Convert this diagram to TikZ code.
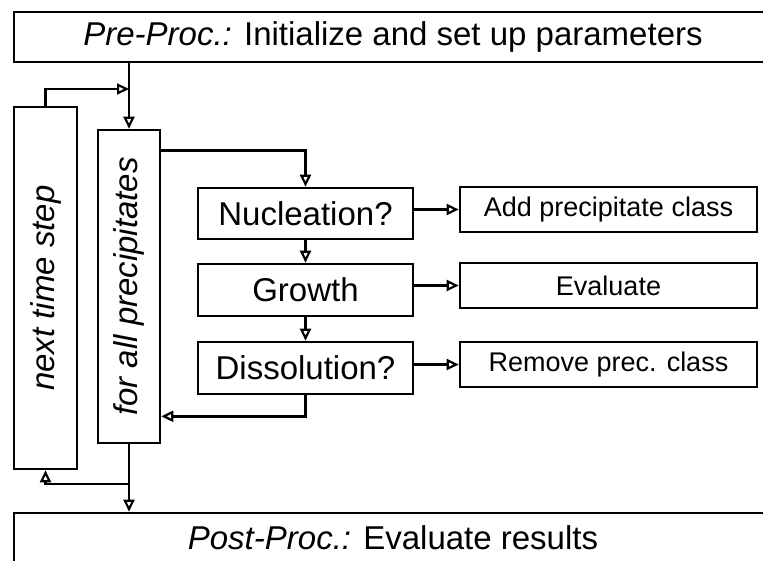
\documentclass[tikz,border=0pt]{standalone}
\usepackage{fontspec}
\setmainfont{Liberation Sans}
\usetikzlibrary{arrows.meta}

\tikzset{
  box/.style={draw, line width=2.6pt, inner sep=0pt, font=\fontsize{33}{38}\selectfont},
  sidebox/.style={box, minimum width=297pt, minimum height=45pt, font=\fontsize{27}{32}\selectfont},
  arr/.style={line width=2.8pt, -{Triangle[open,length=12pt,width=11pt,line width=2.2pt]}},
}

\begin{document}
\begin{tikzpicture}[x=1pt, y=-1pt]
    \useasboundingbox (0,0) rectangle (763,560);
    \clip (0,0) rectangle (763,560);

    % Vor- und Nachbearbeitung
    \node[box, minimum width=758pt, minimum height=50pt] (pre) at (393,37)
      {\textit{Pre-Proc.:} Initialize and set up parameters};
    \node[box, minimum width=758pt, minimum height=50pt] (post) at (393,538)
      {\textit{Post-Proc.:} Evaluate results};

    % Schleifen
    \node[box, minimum width=63pt, minimum height=362pt] (nextstep) at (45.5,288) {};
    \node[rotate=90, font=\fontsize{33}{38}\selectfont\itshape] (nextsteptxt) at (nextstep) {next time step};

    \node[box, minimum width=62pt, minimum height=313pt] (forall) at (129,286.5) {};
    \node[rotate=90, font=\fontsize{33}{38}\selectfont\itshape] (foralltxt) at (forall) {for all precipitates};

    % Schritte
    \node[box, minimum width=215pt, minimum height=51pt] (nuc) at (305.5,213.5) {Nucleation?};
    \node[box, minimum width=215pt, minimum height=52pt] (growth) at (305.5,290) {Growth};
    \node[box, minimum width=215pt, minimum height=52pt] (diss) at (305.5,368) {Dissolution?};

    % Aktionen
    \node[sidebox] (add) at (608.5,209.5) {Add precipitate class};
    \node[sidebox] (eval) at (608.5,285.5) {Evaluate};
    \node[sidebox] (remove) at (608.5,364.5) {Remove prec. class};

    % Verbindungen
    \coordinate (topjoin) at (129,89);
    \coordinate (botjoin) at (129,484);

    \draw[arr] (pre.south -| forall.north) -- (forall.north);
    \draw[arr] (nextstep.north) |- (topjoin);
    \draw[arr] ([yshift=-22pt]forall.north east) -| (nuc.north);
    \draw[arr] (nuc.south) -- (growth.north);
    \draw[arr] (growth.south) -- (diss.north);
    \draw[arr] (diss.south) |- ([yshift=28pt]forall.south east);
    \draw[arr] (forall.south) -- (forall.south |- post.north);
    \draw[arr] (botjoin) -| (nextstep.south);

    \draw[arr] (add.west -| nuc.east) -- (add.west);
    \draw[arr] (eval.west -| growth.east) -- (eval.west);
    \draw[arr] (remove.west -| diss.east) -- (remove.west);
\end{tikzpicture}
\end{document}
